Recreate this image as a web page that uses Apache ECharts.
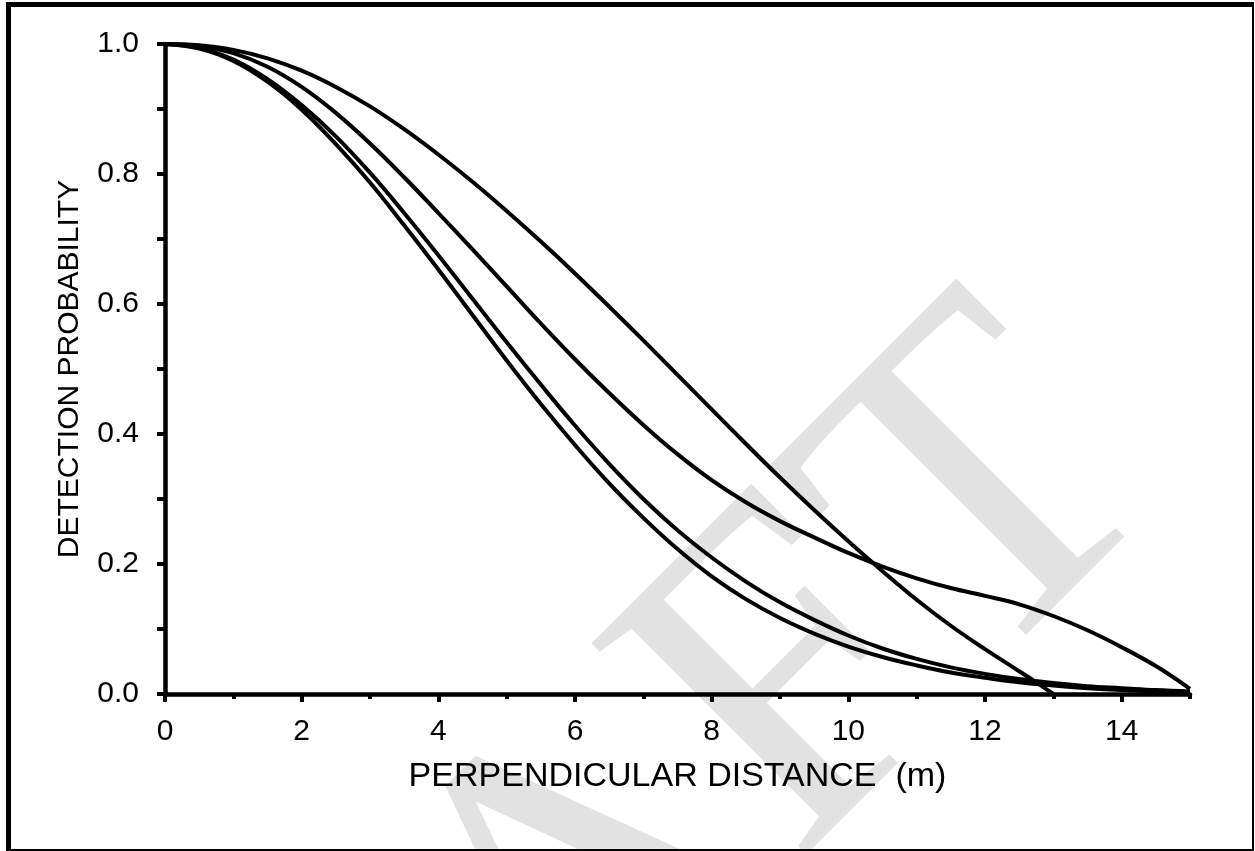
<!DOCTYPE html>
<html>
<head>
<meta charset="utf-8">
<script src="https://cdn.jsdelivr.net/npm/echarts@6/dist/echarts.min.js"></script>
<style>
  html, body { margin: 0; padding: 0; background: #fff; }
  #main { width: 1255px; height: 851px; }
</style>
</head>
<body>
<div id="main"></div>
<script>
// perpendicular distance (m), every 0.5 m
var distance = [0, 0.5, 1, 1.5, 2, 2.5, 3, 3.5, 4, 4.5, 5, 5.5, 6, 6.5, 7, 7.5,
                8, 8.5, 9, 9.5, 10, 10.5, 11, 11.5, 12, 12.5, 13, 13.5, 14, 14.5, 15];
// the top curve stops at about 13 m
var distanceA = [0, 0.5, 1, 1.5, 2, 2.5, 3, 3.5, 4, 4.5, 5, 5.5, 6, 6.5, 7, 7.5,
                 8, 8.5, 9, 9.5, 10, 10.5, 11, 11.5, 12, 12.5, 12.75, 13];

var curveA = [1, 0.998, 0.991, 0.978, 0.959, 0.934, 0.904, 0.869, 0.830, 0.788, 0.743, 0.696,
              0.647, 0.596, 0.544, 0.491, 0.438, 0.385, 0.333, 0.283, 0.235, 0.189, 0.145,
              0.105, 0.069, 0.035, 0.018, 0.0];
var curveB = [1, 0.997, 0.986, 0.965, 0.934, 0.894, 0.847, 0.795, 0.740, 0.684, 0.627, 0.570,
              0.515, 0.463, 0.414, 0.369, 0.329, 0.295, 0.266, 0.241, 0.217, 0.196, 0.178,
              0.163, 0.151, 0.138, 0.120, 0.098, 0.072, 0.043, 0.008];
var curveC = [1, 0.993, 0.974, 0.942, 0.899, 0.846, 0.787, 0.721, 0.653, 0.583, 0.513, 0.446,
              0.383, 0.324, 0.271, 0.223, 0.181, 0.146, 0.117, 0.093, 0.073, 0.057, 0.044,
              0.033, 0.025, 0.018, 0.013, 0.009, 0.006, 0.004, 0.003];
var curveD = [1, 0.994, 0.976, 0.946, 0.906, 0.858, 0.802, 0.740, 0.675, 0.608, 0.541, 0.476,
              0.413, 0.354, 0.300, 0.252, 0.210, 0.173, 0.141, 0.114, 0.090, 0.070, 0.054,
              0.041, 0.031, 0.023, 0.017, 0.012, 0.009, 0.006, 0.004];

var xMajorTicks = [0, 2, 4, 6, 8, 10, 12, 14];
var xMinorTicks = [1, 3, 5, 7, 9, 11, 13, 15];

function pairs(xs, ys) {
    var out = [];
    for (var i = 0; i < xs.length; i++) {
        out.push([xs[i], ys[i]]);
    }
    return out;
}

function curve(xs, ys) {
    return {
        type: 'line',
        xAxisIndex: 0,
        data: pairs(xs, ys),
        smooth: 0.4,
        showSymbol: false,
        lineStyle: { color: '#000', width: 4 },
        z: 3
    };
}

var myChart = echarts.init(document.getElementById('main'));
var font = 'Liberation Sans, Arial, sans-serif';

var option = {
    animation: false,
    backgroundColor: '#fff',
    grid: { left: 165, right: 65, top: 44, bottom: 157 },
    xAxis: [{
        type: 'value',
        min: 0,
        max: 15,
        position: 'bottom',
        name: 'PERPENDICULAR DISTANCE  (m)',
        nameLocation: 'middle',
        nameGap: 66,
        nameTextStyle: { color: '#000', fontSize: 34, fontFamily: font },
        axisLine: { onZero: false, lineStyle: { color: '#000', width: 4.5 } },
        axisTick: { customValues: xMajorTicks, length: 8, lineStyle: { color: '#000', width: 4 } },
        axisLabel: { customValues: xMajorTicks, color: '#000', fontSize: 30, fontFamily: font, margin: 23 },
        splitLine: { show: false }
    }, {
        type: 'value',
        min: 0,
        max: 15,
        position: 'bottom',
        axisLine: { show: false },
        axisTick: { customValues: xMinorTicks, length: 5, lineStyle: { color: '#000', width: 4 } },
        axisLabel: { show: false },
        splitLine: { show: false }
    }],
    yAxis: {
        type: 'value',
        min: 0,
        max: 1,
        interval: 0.2,
        name: 'DETECTION PROBABILITY',
        nameLocation: 'middle',
        nameGap: 80,
        nameTextStyle: { color: '#000', fontSize: 30, fontFamily: font },
        axisLine: { show: true, onZero: false, lineStyle: { color: '#000', width: 4.5 } },
        axisTick: { show: true, length: 8, lineStyle: { color: '#000', width: 4 } },
        minorTick: { show: true, splitNumber: 2, length: 8, lineStyle: { color: '#000', width: 4 } },
        axisLabel: {
            color: '#000', fontSize: 30, fontFamily: font, margin: 26,
            formatter: function (v) { return v.toFixed(1); }
        },
        splitLine: { show: false },
        minorSplitLine: { show: false }
    },
    graphic: [
        // faint watermark behind the plot
        {
            type: 'text', x: 782, y: 708, rotation: Math.PI / 4, z: -10, silent: true,
            style: {
                text: 'AFT', fill: '#e2e2e2', fontSize: 460,
                fontFamily: 'Liberation Serif, Times New Roman, serif',
                textAlign: 'center', textVerticalAlign: 'middle'
            }
        },
        // page frame
        { type: 'rect', z: 100, shape: { x: 6, y: 2, width: 5, height: 849 }, style: { fill: '#000' } },
        { type: 'rect', z: 100, shape: { x: 6, y: 2, width: 1248, height: 5 }, style: { fill: '#000' } },
        { type: 'rect', z: 100, shape: { x: 1252, y: 2, width: 2, height: 849 }, style: { fill: '#000' } },
        { type: 'rect', z: 100, shape: { x: 6, y: 849, width: 1248, height: 2 }, style: { fill: '#000' } }
    ],
    series: [
        curve(distanceA, curveA),
        curve(distance, curveB),
        curve(distance, curveC),
        curve(distance, curveD)
    ]
};

myChart.setOption(option);
</script>
</body>
</html>
